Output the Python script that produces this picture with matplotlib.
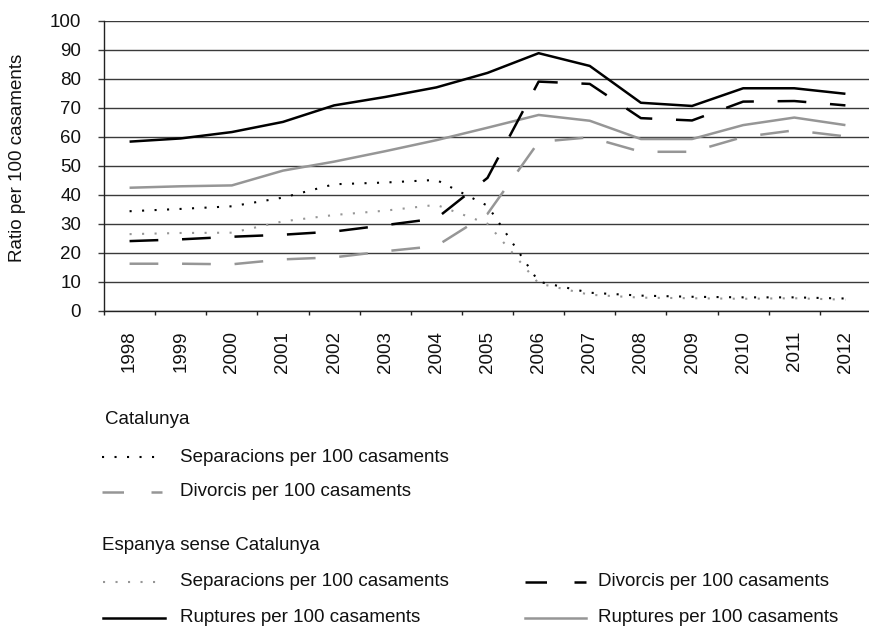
import numpy as np
import matplotlib
matplotlib.use("Agg")
import matplotlib.pyplot as plt

plt.rcParams['font.family'] = ['Liberation Sans', 'DejaVu Sans']

years = ['1998', '1999', '2000', '2001', '2002', '2003', '2004', '2005',
         '2006', '2007', '2008', '2009', '2010', '2011', '2012']

# Catalunya (black) series
cat_separacions = [34.3, 35.1, 36.0, 39.0, 43.6, 44.2, 45.1, 36.2, 10.0, 6.2, 5.2, 4.8, 4.6, 4.6, 4.2]
cat_divorcis = [24.0, 24.6, 25.5, 26.2, 27.3, 29.5, 31.8, 45.8, 79.0, 78.2, 66.4, 65.6, 72.1, 72.3, 70.8]
cat_ruptures = [58.3, 59.4, 61.6, 65.1, 70.8, 73.7, 77.0, 82.0, 88.8, 84.4, 71.7, 70.6, 76.7, 76.7, 74.8]

# Espanya sense Catalunya (grey) series
esp_separacions = [26.4, 26.8, 26.9, 30.8, 33.0, 34.5, 36.5, 30.0, 9.4, 5.5, 4.5, 4.3, 4.1, 4.3, 3.8]
esp_divorcis = [16.2, 16.2, 16.0, 17.7, 18.4, 20.5, 22.3, 33.4, 58.2, 59.8, 54.8, 54.8, 59.9, 62.2, 60.1]
esp_ruptures = [42.4, 42.9, 43.2, 48.3, 51.4, 55.0, 58.8, 63.1, 67.5, 65.5, 59.2, 59.2, 64.0, 66.6, 64.0]

legend_header_1 = 'Catalunya'
legend_header_2 = 'Espanya sense Catalunya'
lbl_sep = 'Separacions per 100 casaments'
lbl_div = 'Divorcis per 100 casaments'
lbl_rup = 'Ruptures per 100 casaments'

BLACK = '#000000'
GREY = '#969696'
TXT = '#111111'
FS = 13.5
W, H = 869, 629

fig = plt.figure(figsize=(W / 100, H / 100), dpi=100)
ax = fig.add_axes([104 / W, 1 - 310.7 / H, 767 / W, 290 / H])

x = np.arange(len(years))
dot = (0, (1, 5))
dash = (0, (11.5, 9.5))

ax.plot(x, esp_ruptures, color=GREY, lw=1.8, solid_capstyle='butt')
ax.plot(x, esp_divorcis, color=GREY, lw=1.8, linestyle=dash)
ax.plot(x, esp_separacions, color=GREY, lw=1.5, linestyle=dot)
ax.plot(x, cat_ruptures, color=BLACK, lw=1.8, solid_capstyle='butt')
ax.plot(x, cat_divorcis, color=BLACK, lw=1.8, linestyle=dash)
ax.plot(x, cat_separacions, color=BLACK, lw=1.5, linestyle=dot)

ax.set_xlim(-0.5, len(years) - 0.5)
ax.set_ylim(0, 100)
ax.set_yticks(np.arange(0, 101, 10))
ax.yaxis.grid(True, color='#3a3a3a', lw=1.0)
ax.set_axisbelow(True)

ax.set_xticks(np.arange(-0.5, len(years), 1))
ax.set_xticklabels([])
ax.set_xticks(x, minor=True)
ax.set_xticklabels(years, minor=True, rotation=90, fontsize=FS, color=TXT)
ax.tick_params(axis='x', which='major', length=3, width=1, color='#222222', direction='out')
ax.tick_params(axis='x', which='minor', length=0, pad=14.4)
ax.tick_params(axis='y', length=4, width=1, color='#3a3a3a', pad=12.5, labelsize=FS, labelcolor=TXT)

for s in ['top', 'right']:
    ax.spines[s].set_visible(False)
ax.spines['left'].set_color('#222222')
ax.spines['bottom'].set_color('#222222')
ax.spines['left'].set_linewidth(1.0)
ax.spines['bottom'].set_linewidth(1.0)

fig.text(18 / W, 1 - 158 / H, 'Ratio per 100 casaments', rotation=90,
         ha='center', va='center', fontsize=FS, color=TXT)

# Legend drawn in a pixel-coordinate overlay
lg = fig.add_axes([0, 0, 1, 1])
lg.set_xlim(0, W)
lg.set_ylim(H, 0)
lg.axis('off')
lg.patch.set_alpha(0)

leg_dash = (0, (8.6, 11))

lg.text(105, 419, legend_header_1, fontsize=FS, color=TXT, ha='left', va='center')
lg.plot([102, 155], [457, 457], color=BLACK, lw=1.5, linestyle=dot)
lg.text(180, 457, lbl_sep, fontsize=FS, color=TXT, ha='left', va='center')
lg.plot([102, 162], [492, 492], color=GREY, lw=1.8, linestyle=leg_dash)
lg.text(180, 492, lbl_div, fontsize=FS, color=TXT, ha='left', va='center')

lg.text(102, 545, legend_header_2, fontsize=FS, color=TXT, ha='left', va='center')
lg.plot([103, 156], [582, 582], color=GREY, lw=1.5, linestyle=dot)
lg.text(180, 582, lbl_sep, fontsize=FS, color=TXT, ha='left', va='center')
lg.plot([525, 586], [582, 582], color=BLACK, lw=1.8, linestyle=leg_dash)
lg.text(598, 582, lbl_div, fontsize=FS, color=TXT, ha='left', va='center')
lg.plot([103, 165], [618, 618], color=BLACK, lw=1.8)
lg.text(180, 618, lbl_rup, fontsize=FS, color=TXT, ha='left', va='center')
lg.plot([525, 586], [618, 618], color=GREY, lw=1.8)
lg.text(598, 618, lbl_rup, fontsize=FS, color=TXT, ha='left', va='center')

fig.savefig('out.png', dpi=100)
